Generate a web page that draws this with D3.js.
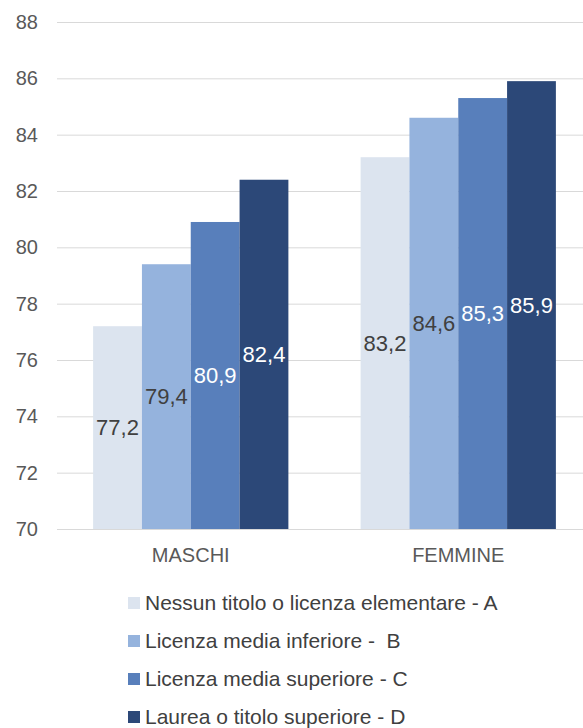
<!DOCTYPE html>
<html lang="it">
<head>
    <meta charset="UTF-8">
    <title>Maschi / Femmine per titolo di studio</title>
    <script src="https://d3js.org/d3.v7.min.js"></script>
    <style>
        body {
            margin: 0;
            padding: 0;
            background: #ffffff;
            font-family: 'Liberation Sans', Arial, sans-serif;
        }
        svg text { fill: #595959; }
        .legend-label { white-space: pre; }
    </style>
</head>
<body>
    <svg id="chart"></svg>

    <script>
        // Data
        const groups = ["MASCHI", "FEMMINE"];
        const seriesNames = [
            "Nessun titolo o licenza elementare - A",
            "Licenza media inferiore -  B",
            "Licenza media superiore - C",
            "Laurea o titolo superiore - D"
        ];
        const seriesValues = [
            [77.2, 83.2],
            [79.4, 84.6],
            [80.9, 85.3],
            [82.4, 85.9]
        ];
        const yTicks = [70, 72, 74, 76, 78, 80, 82, 84, 86, 88];

        const colors = ["#dce4ef", "#95b3dd", "#587fbb", "#2c4878"];
        const labelColors = ["#404040", "#404040", "#ffffff", "#ffffff"];

        const width = 583, height = 728;
        const margin = { top: 22, right: -9, bottom: 199, left: 57 };

        const svg = d3.select("#chart")
            .attr("width", width)
            .attr("height", height);

        const y = d3.scaleLinear()
            .domain([70, 88])
            .range([height - margin.bottom, margin.top]);

        const x0 = d3.scaleBand()
            .domain(groups)
            .range([margin.left, width - margin.right])
            .paddingInner(0.27)
            .paddingOuter(0.135);

        const x1 = d3.scaleBand()
            .domain(d3.range(seriesNames.length))
            .range([0, x0.bandwidth()]);

        // gridlines + y labels
        const yAxis = svg.append("g")
            .attr("transform", `translate(${margin.left},0)`)
            .call(d3.axisLeft(y).tickValues(yTicks).tickSize(-(width - margin.left)).tickPadding(19));
        yAxis.select(".domain").remove();
        yAxis.selectAll(".tick line").attr("stroke", "#d9d9d9").attr("stroke-width", 1);
        yAxis.selectAll(".tick text")
            .attr("font-size", "20px")
            .attr("font-family", "'Liberation Sans', Arial, sans-serif")
            .style("fill", "#595959");

        // bars
        const rows = groups.map((g, gi) => seriesNames.map((s, si) => ({
            group: g, series: si, value: seriesValues[si][gi]
        })));

        const gGroups = svg.selectAll(".grp")
            .data(rows)
            .enter().append("g")
            .attr("class", "grp")
            .attr("transform", (d, i) => `translate(${x0(groups[i])},0)`);

        gGroups.selectAll("rect")
            .data(d => d)
            .enter().append("rect")
            .attr("x", d => x1(d.series))
            .attr("width", x1.bandwidth())
            .attr("y", d => y(d.value))
            .attr("height", d => y(70) - y(d.value))
            .attr("fill", d => colors[d.series]);

        gGroups.selectAll("text.val")
            .data(d => d)
            .enter().append("text")
            .attr("class", "val")
            .attr("x", d => x1(d.series) + x1.bandwidth() / 2)
            .attr("y", d => (y(d.value) + y(70)) / 2)
            .attr("dy", "0.35em")
            .attr("text-anchor", "middle")
            .attr("font-size", "22px")
            .style("fill", d => labelColors[d.series])
            .text(d => d3.format(".1f")(d.value).replace(".", ","));

        // category labels
        svg.append("g")
            .selectAll("text")
            .data(groups)
            .enter().append("text")
            .attr("x", d => x0(d) + x0.bandwidth() / 2)
            .attr("y", height - margin.bottom + 26)
            .attr("dy", "0.35em")
            .attr("text-anchor", "middle")
            .attr("font-size", "20px")
            .text(d => d);

        // legend
        const legend = svg.append("g")
            .selectAll("g")
            .data(seriesNames)
            .enter().append("g")
            .attr("transform", (d, i) => `translate(128,${603 + i * 38})`);

        legend.append("rect")
            .attr("x", 0)
            .attr("y", -6)
            .attr("width", 12)
            .attr("height", 12)
            .attr("fill", (d, i) => colors[i]);

        legend.append("text")
            .attr("class", "legend-label")
            .attr("x", 17)
            .attr("dy", "0.35em")
            .attr("font-size", "21px")
            .style("fill", "#404040")
            .text(d => d);
    </script>
</body>
</html>
